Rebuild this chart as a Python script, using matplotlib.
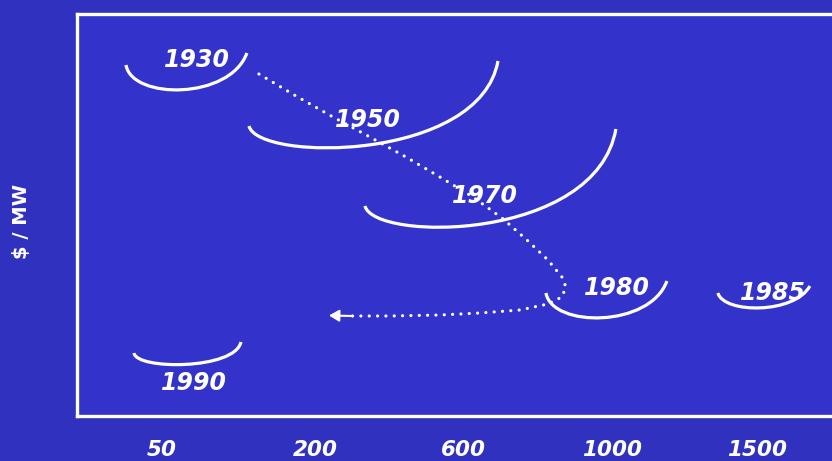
import matplotlib
matplotlib.use("Agg")
import matplotlib.pyplot as plt
from matplotlib.path import Path
from matplotlib.patches import PathPatch

# plant size categories (MW) on the x axis
sizes = ["50", "200", "600", "1000", "1500"]
size_pos = [0.0, 1.029, 2.030, 3.025, 4.0]

# cost curves per era: start, two bezier handles, end  (x = size index, y = $/MW)
eras = ["1930", "1950", "1970", "1980", "1985", "1990"]
curve_x = [
    [-0.242, -0.202, 0.457, 0.571],
    [0.585, 0.645, 2.138, 2.259],
    [1.365, 1.425, 2.918, 3.052],
    [2.582, 2.622, 3.281, 3.395],
    [3.738, 3.778, 4.255, 4.356],
    [-0.188, -0.175, 0.491, 0.531],
]
curve_y = [
    [87.31, 78.61, 78.61, 90.30],
    [72.14, 63.2, 63.2, 88.31],
    [52.24, 43.3, 43.3, 71.39],
    [30.60, 21.89, 21.89, 33.58],
    [30.60, 25.37, 25.37, 32.34],
    [15.67, 11.44, 11.44, 18.41],
]
label_x = [0.235, 1.385, 2.171, 3.059, 4.108, 0.215]
label_y = [88.56, 73.63, 54.73, 31.84, 30.60, 8.21]

# trend of the optimum over time (dotted path)
trend_x = [0.652, 0.901, 1.150, 1.398, 1.640, 1.869, 2.091, 2.286, 2.454, 2.595,
           2.689, 2.716, 2.689, 2.595, 2.407, 2.138, 1.869, 1.533, 1.230]
trend_y = [85.07, 79.60, 74.38, 69.40, 64.43, 59.45, 54.48, 49.25, 43.78, 38.81,
           34.58, 32.09, 29.60, 27.86, 26.37, 25.62, 25.12, 24.88, 24.88]
arrow_tip = (1.123, 25.0)

BG = "#3333CC"
FONT = dict(family="DejaVu Sans", weight="bold", style="italic", color="white")

fig = plt.figure(figsize=(8.32, 4.61), dpi=100, facecolor="#3131C0")
ax = fig.add_axes([77 / 832, 45 / 461, 1.02 - 77 / 832, 402 / 461])
ax.set_facecolor(BG)
ax.set_xlim(-0.5714, 4.617)
ax.set_ylim(0, 100)

for s in ax.spines.values():
    s.set_color("white")
    s.set_linewidth(2.4)

ax.set_xticks(size_pos)
ax.set_xticklabels(sizes, fontsize=15.5, **FONT)
ax.tick_params(axis="x", length=0, pad=17)
ax.set_yticks([])

codes = [Path.MOVETO, Path.CURVE4, Path.CURVE4, Path.CURVE4]
for xs, ys in zip(curve_x, curve_y):
    p = Path(list(zip(xs, ys)), codes)
    ax.add_patch(PathPatch(p, facecolor="none", edgecolor="white", lw=2.3, capstyle="butt"))

for name, lx, ly in zip(eras, label_x, label_y):
    ax.text(lx, ly, name, ha="center", va="center", fontsize=17, **FONT)

ax.plot(trend_x, trend_y, color="white", lw=2.3, linestyle=(0, (0.01, 2.6)),
        dash_capstyle="round")
ax.annotate("", xy=arrow_tip, xytext=(trend_x[-1] + 0.05, trend_y[-1]),
            arrowprops=dict(arrowstyle="-|>,head_length=0.6,head_width=0.35",
                            color="white", lw=1.5, shrinkA=0, shrinkB=0))

fig.text(22 / 832, 1 - 221 / 461, "$ / MW", rotation=90, ha="center", va="center",
         fontsize=14, family="DejaVu Sans", weight="bold", color="white")

fig.savefig("out.png", dpi=100, facecolor=fig.get_facecolor())
